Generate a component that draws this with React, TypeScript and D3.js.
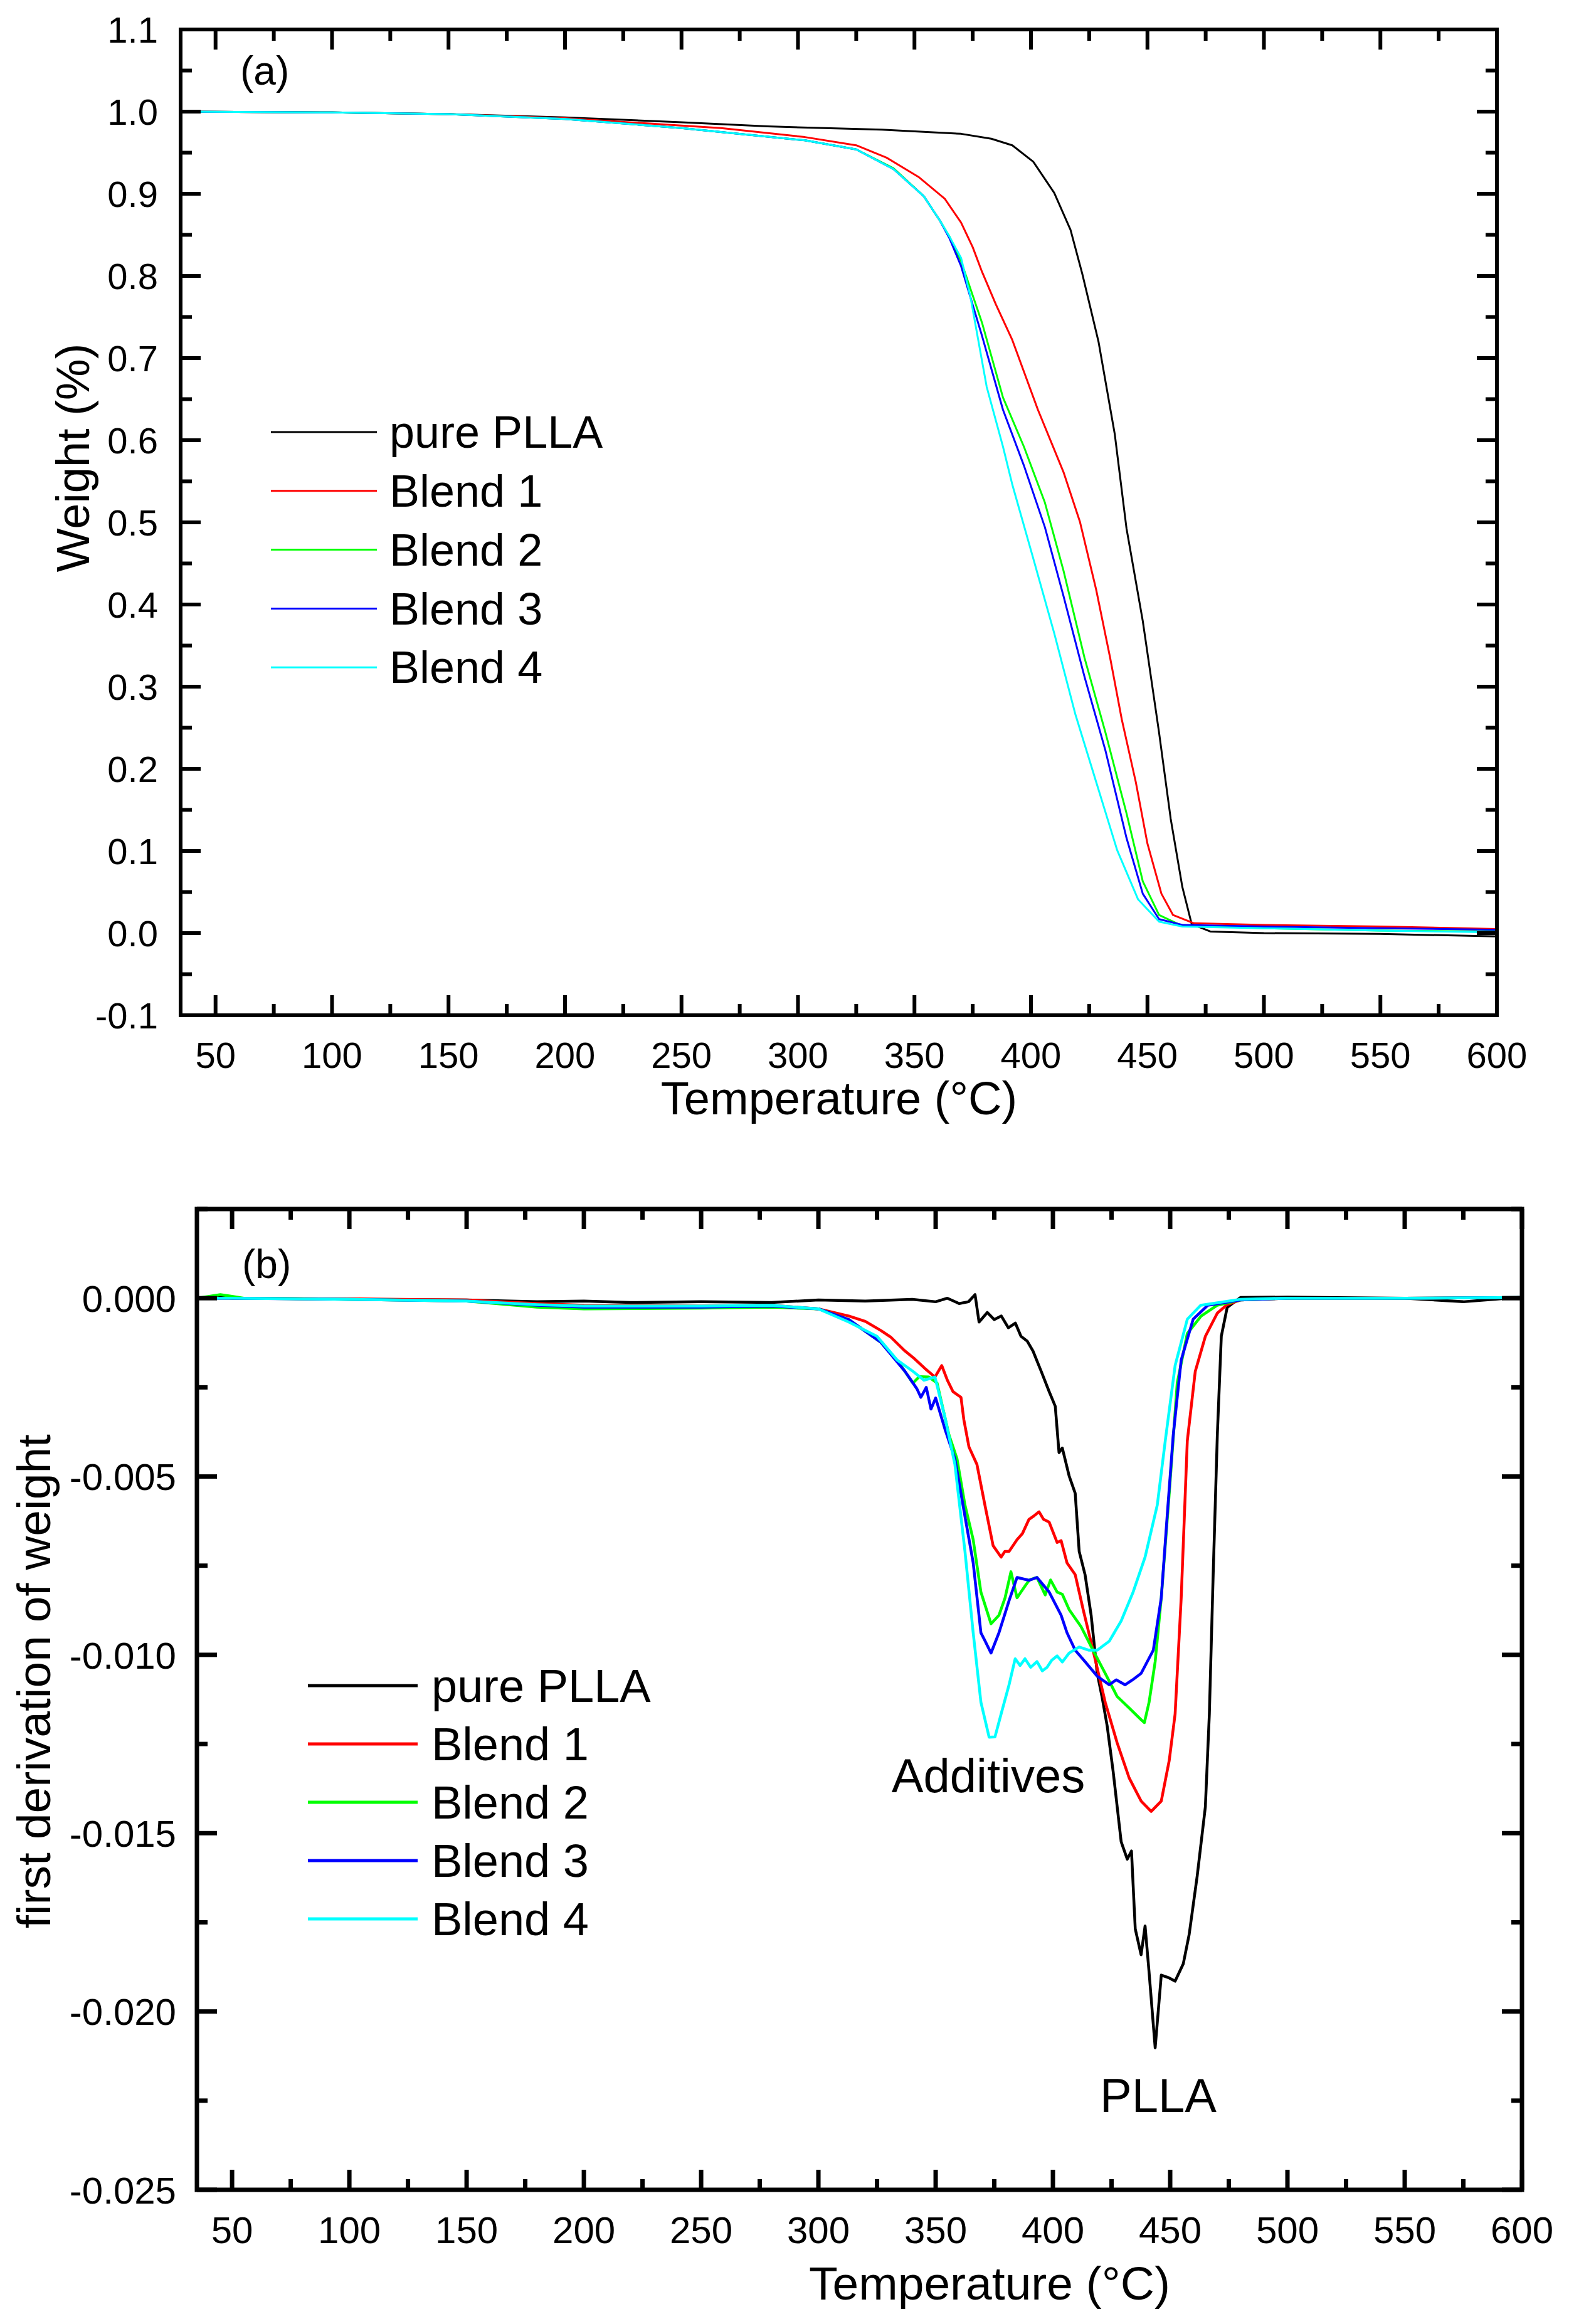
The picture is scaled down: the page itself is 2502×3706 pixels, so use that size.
import React from "react";
import * as d3 from "d3";

// ---------- Panel (a): TGA weight curves ----------
const T_A_PURE = [35, 100, 150, 200, 250, 287, 336, 370, 383, 392, 401, 410, 417, 422, 429, 436, 441, 448, 455, 460, 465, 469, 477, 500, 550, 600];
const W_A_PURE = [1.0, 0.999, 0.997, 0.993, 0.987, 0.982, 0.978, 0.973, 0.967, 0.959, 0.939, 0.901, 0.856, 0.803, 0.72, 0.607, 0.493, 0.38, 0.244, 0.139, 0.056, 0.011, 0.002, 0.0, -0.001, -0.004];

const T_A_B1 = [35, 100, 150, 200, 250, 267, 303, 325, 338, 352, 363, 370, 375, 379, 385, 392, 403, 414, 421, 428, 434, 439, 445, 450, 456, 461, 470, 500, 550, 600];
const W_A_B1 = [1.0, 0.999, 0.997, 0.992, 0.983, 0.98, 0.969, 0.959, 0.944, 0.92, 0.894, 0.865, 0.835, 0.805, 0.765, 0.722, 0.637, 0.561, 0.501, 0.418, 0.335, 0.26, 0.184, 0.109, 0.048, 0.022, 0.012, 0.01, 0.008, 0.005];

const T_A_B2 = [35, 100, 150, 200, 250, 303, 325, 341, 354, 361, 365, 370, 379, 388, 397, 406, 414, 423, 432, 441, 448, 455, 464, 500, 550, 600];
const W_A_B2 = [1.0, 0.999, 0.997, 0.991, 0.98, 0.965, 0.954, 0.931, 0.897, 0.867, 0.848, 0.818, 0.743, 0.652, 0.592, 0.524, 0.441, 0.335, 0.244, 0.146, 0.063, 0.022, 0.01, 0.006, 0.003, 0.002];

const T_A_B3 = [35, 100, 150, 200, 250, 303, 325, 341, 354, 361, 365, 370, 379, 388, 397, 406, 414, 423, 432, 441, 448, 455, 465, 500, 550, 600];
const W_A_B3 = [1.0, 0.999, 0.997, 0.991, 0.98, 0.965, 0.954, 0.93, 0.897, 0.867, 0.846, 0.812, 0.727, 0.637, 0.569, 0.494, 0.41, 0.312, 0.222, 0.116, 0.048, 0.017, 0.01, 0.008, 0.006, 0.004];

const T_A_B4 = [35, 100, 150, 200, 250, 303, 325, 341, 354, 361, 365, 370, 374, 381, 388, 392, 401, 410, 419, 428, 437, 446, 455, 465, 500, 550, 600];
const W_A_B4 = [1.0, 0.999, 0.997, 0.991, 0.98, 0.965, 0.954, 0.93, 0.897, 0.867, 0.848, 0.822, 0.775, 0.665, 0.592, 0.546, 0.456, 0.365, 0.267, 0.184, 0.101, 0.041, 0.014, 0.008, 0.006, 0.003, 0.001];

// ---------- Panel (b): first derivative ----------
const T_B_PURE = [35, 45, 50, 60, 100, 150, 180, 200, 220, 250, 280, 300, 320, 340, 350, 355, 360, 364, 366.8, 368.5, 372, 375, 378, 381, 384, 386.4, 389, 391.5, 395, 398.4, 401, 402.6, 404, 406.9, 409.5, 411.2, 413.7, 416.3, 418.9, 421, 423.1, 425.7, 429.1, 431.7, 433.5, 435.1, 437.6, 439.3, 441, 443.6, 446.2, 449.6, 452.1, 455.6, 458.1, 461.5, 465, 466.7, 468.4, 470.1, 471.8, 474.3, 480, 500, 550, 575, 600];
const V_B_PURE = [0, 0.00003, 0, 0, -0.00003, -0.00005, -0.0001, -0.00008, -0.00012, -0.0001, -0.00012, -0.00005, -0.00008, -0.00003, -0.0001, 0, -0.00015, -0.0001, 0.0001, -0.00067, -0.0004, -0.0006, -0.0005, -0.00083, -0.0007, -0.00107, -0.0012, -0.00148, -0.00205, -0.00262, -0.00303, -0.00433, -0.0042, -0.00498, -0.00547, -0.0071, -0.00775, -0.00889, -0.01052, -0.0112, -0.01198, -0.01328, -0.01524, -0.01573, -0.0155, -0.01768, -0.01841, -0.0176, -0.0189, -0.02102, -0.01898, -0.01906, -0.01915, -0.01866, -0.01784, -0.01621, -0.01426, -0.01166, -0.00759, -0.00384, -0.00107, -0.00026, 0.00002, 0.00003, 0.0, -0.0001, 0.00003];

const T_B_B1 = [35, 50, 100, 150, 180, 200, 250, 280, 300, 313, 320, 326.7, 331, 336.9, 341, 345.4, 349.7, 352.6, 355, 357.4, 360.8, 362, 364.2, 367.6, 371, 374.5, 377.9, 379.5, 381.3, 384.7, 387, 389.8, 392, 394.1, 396, 398.4, 401.8, 403.5, 406, 409.5, 412.9, 417.1, 422.3, 427.4, 432.5, 437.6, 441.9, 446.2, 449.6, 452.1, 454.7, 457.3, 460.7, 465, 470.1, 474.3, 480, 500, 550, 600];
const V_B_B1 = [0, 0, -0.00002, -0.00005, -0.00015, -0.0002, -0.00022, -0.0002, -0.0003, -0.0005, -0.00065, -0.00091, -0.0011, -0.00148, -0.0017, -0.00197, -0.00221, -0.00189, -0.0023, -0.00262, -0.00278, -0.0034, -0.00417, -0.00466, -0.0058, -0.00694, -0.00726, -0.0071, -0.0071, -0.00677, -0.0066, -0.0062, -0.0061, -0.00599, -0.0062, -0.00628, -0.00685, -0.0068, -0.00742, -0.00775, -0.00873, -0.00987, -0.01133, -0.01247, -0.01345, -0.0141, -0.01439, -0.0141, -0.01296, -0.01166, -0.0084, -0.004, -0.00205, -0.00107, -0.00042, -0.00018, -0.00005, 0.0, 0.0, 0.00002];

const T_B_B2 = [35, 45, 50, 55, 100, 150, 180, 200, 250, 280, 300, 313, 326.7, 335.2, 340.3, 343, 347.1, 350.6, 355.7, 359.1, 362.5, 366, 369.3, 373.6, 377, 379.6, 382.1, 384.7, 388.1, 390, 393.2, 396.7, 399, 401.8, 404, 406.9, 412, 417.1, 422.3, 427.4, 432.5, 437.6, 439, 441, 443.6, 446.2, 449.6, 453, 457.3, 463.2, 470, 480, 500, 550, 600];
const V_B_B2 = [0, 0.0001, 0.00005, 0, -0.00003, -0.00008, -0.00025, -0.0003, -0.00028, -0.00025, -0.0003, -0.0006, -0.00124, -0.00189, -0.00238, -0.0022, -0.00221, -0.00238, -0.00384, -0.0045, -0.0058, -0.00677, -0.00824, -0.00913, -0.00889, -0.0084, -0.00767, -0.0084, -0.00807, -0.0079, -0.00783, -0.00832, -0.0079, -0.00824, -0.0083, -0.00873, -0.00921, -0.00987, -0.01052, -0.01117, -0.01149, -0.01182, -0.0119, -0.01133, -0.01019, -0.0084, -0.00547, -0.00238, -0.00099, -0.0005, -0.0002, -0.00005, 0.0, 0.0, 0.00002];

const T_B_B3 = [35, 50, 100, 150, 180, 200, 250, 280, 300, 313, 326.7, 336.9, 342, 343.7, 346, 348, 350, 354, 358.2, 362.5, 366, 369.3, 371, 373.6, 377, 381.3, 384.7, 389.8, 393.2, 398.4, 403.5, 406, 409.5, 413.7, 418.9, 424, 427, 430.8, 434, 437.6, 442.8, 446.2, 448.7, 451.3, 454.7, 459.8, 466, 480, 500, 550, 600];
const V_B_B3 = [0, 0, -0.00003, -0.00008, -0.0002, -0.00025, -0.00025, -0.00022, -0.0003, -0.0006, -0.00124, -0.00205, -0.00254, -0.00278, -0.0025, -0.00311, -0.0028, -0.00368, -0.0045, -0.00612, -0.00742, -0.00938, -0.0096, -0.00995, -0.00938, -0.00848, -0.00783, -0.00791, -0.00783, -0.00824, -0.00889, -0.00938, -0.00987, -0.01019, -0.0106, -0.01084, -0.0107, -0.01084, -0.0107, -0.01052, -0.00987, -0.0084, -0.00612, -0.00384, -0.00173, -0.00059, -0.0002, -0.00005, 0.0, 0.0, 0.00002];

const T_B_B4 = [35, 50, 100, 150, 180, 200, 250, 280, 300, 313, 325, 333.5, 340.3, 345, 349.7, 354, 358.2, 362.5, 366, 369.3, 372.8, 375.3, 377.9, 381.3, 383.9, 386, 388.1, 390.5, 393.2, 395.5, 397.5, 399.5, 401.8, 404, 406.9, 411.2, 415.4, 418.9, 424, 429.1, 434.2, 439.3, 444.5, 447.9, 452.1, 457.3, 463, 480, 500, 550, 600];
const V_B_B4 = [0, 0, -0.00003, -0.00008, -0.00018, -0.00022, -0.00022, -0.0002, -0.0003, -0.00067, -0.00107, -0.00173, -0.00205, -0.0023, -0.00221, -0.00335, -0.00466, -0.0071, -0.00938, -0.01133, -0.01231, -0.0123, -0.01166, -0.01084, -0.01011, -0.0103, -0.01011, -0.01035, -0.01019, -0.01045, -0.01035, -0.01015, -0.01003, -0.0102, -0.00995, -0.00978, -0.00987, -0.00987, -0.00962, -0.00905, -0.00824, -0.00726, -0.0058, -0.004, -0.00189, -0.00059, -0.0002, -0.00003, 0.0, 0.0, 0.00002];

// ---------- Labels / ticks ----------
const SERIES_NAMES = ["pure PLLA", "Blend 1", "Blend 2", "Blend 3", "Blend 4"];
const SERIES_COLORS = ["#000000", "#ff0000", "#00ff00", "#0000ff", "#00ffff"];
const X_MAJOR = [50, 100, 150, 200, 250, 300, 350, 400, 450, 500, 550, 600];
const X_MINOR = [75, 125, 175, 225, 275, 325, 375, 425, 475, 525, 575];
const Y_MAJOR_A = [-0.1, 0.0, 0.1, 0.2, 0.3, 0.4, 0.5, 0.6, 0.7, 0.8, 0.9, 1.0, 1.1];
const Y_MINOR_A = [-0.05, 0.05, 0.15, 0.25, 0.35, 0.45, 0.55, 0.65, 0.75, 0.85, 0.95, 1.05];
const Y_MAJOR_B = [-0.025, -0.02, -0.015, -0.01, -0.005, 0.0];
const Y_MINOR_B = [-0.0225, -0.0175, -0.0125, -0.0075, -0.0025, 0.0025];

const FONT = "'Liberation Sans', Arial, Helvetica, sans-serif";

const zip = (t: number[], v: number[]) => t.map((x, i) => [x, v[i]] as [number, number]);

type PanelProps = {
  id: string;
  left: number; right: number; top: number; bottom: number;
  yDomain: [number, number];
  series: [number, number][][];
  yMajor: number[]; yMinor: number[]; yDigits: number;
  axisW: number; lineW: number; majorLen: number; minorLen: number;
  fontSize: number; xLabelBaseline: number; yLabelRight: number;
  panelLabel: string; panelLabelX: number; panelLabelY: number;
  xTitleX: number; xTitleY: number;
  yTitle: string; yTitleX: number; yTitleY: number;
  titleSize: number;
  legendX1: number; legendX2: number; legendTextX: number; legendY0: number; legendDy: number; legendSize: number; legendLineW: number;
};

function Panel(p: PanelProps) {
  const x = d3.scaleLinear().domain([35, 600]).range([p.left, p.right]);
  const y = d3.scaleLinear().domain(p.yDomain).range([p.bottom, p.top]);
  const line = d3.line<[number, number]>().x((d) => x(d[0])).y((d) => y(d[1]));
  const fmt = (v: number) => {
    const s = v.toFixed(p.yDigits);
    return s.startsWith("-") && Number(s) === 0 ? s.slice(1) : s;
  };
  return (
    <g>
      <defs>
        <clipPath id={`clip-${p.id}`}>
          <rect x={p.left} y={p.top} width={p.right - p.left} height={p.bottom - p.top} />
        </clipPath>
      </defs>
      <g clipPath={`url(#clip-${p.id})`}>
        {p.series.map((s, i) => (
          <path key={i} d={line(s) || ""} fill="none" stroke={SERIES_COLORS[i]} strokeWidth={p.lineW} strokeLinejoin="round" />
        ))}
      </g>
      <g stroke="#000" strokeWidth={p.axisW}>
        {X_MAJOR.map((t) => (
          <g key={"xM" + t}>
            <line x1={x(t)} x2={x(t)} y1={p.bottom} y2={p.bottom - p.majorLen} />
            <line x1={x(t)} x2={x(t)} y1={p.top} y2={p.top + p.majorLen} />
          </g>
        ))}
        {X_MINOR.map((t) => (
          <g key={"xm" + t}>
            <line x1={x(t)} x2={x(t)} y1={p.bottom} y2={p.bottom - p.minorLen} />
            <line x1={x(t)} x2={x(t)} y1={p.top} y2={p.top + p.minorLen} />
          </g>
        ))}
        {p.yMajor.map((t) => (
          <g key={"yM" + t}>
            <line x1={p.left} x2={p.left + p.majorLen} y1={y(t)} y2={y(t)} />
            <line x1={p.right} x2={p.right - p.majorLen} y1={y(t)} y2={y(t)} />
          </g>
        ))}
        {p.yMinor.map((t) => (
          <g key={"ym" + t}>
            <line x1={p.left} x2={p.left + p.minorLen} y1={y(t)} y2={y(t)} />
            <line x1={p.right} x2={p.right - p.minorLen} y1={y(t)} y2={y(t)} />
          </g>
        ))}
      </g>
      <rect x={p.left} y={p.top} width={p.right - p.left} height={p.bottom - p.top} fill="none" stroke="#000" strokeWidth={p.axisW} />
      <g fontFamily={FONT} fontSize={p.fontSize} fill="#000">
        {X_MAJOR.map((t) => (
          <text key={"xl" + t} x={x(t)} y={p.xLabelBaseline} textAnchor="middle">{t}</text>
        ))}
        {p.yMajor.map((t) => (
          <text key={"yl" + t} x={p.yLabelRight} y={y(t) + p.fontSize * 0.36} textAnchor="end">{fmt(t)}</text>
        ))}
      </g>
      <text x={p.panelLabelX} y={p.panelLabelY} fontFamily={FONT} fontSize={64}>{p.panelLabel}</text>
      <text x={p.xTitleX} y={p.xTitleY} fontFamily={FONT} fontSize={p.titleSize} textAnchor="middle">Temperature (°C)</text>
      <text x={p.yTitleX} y={p.yTitleY} fontFamily={FONT} fontSize={p.titleSize} textAnchor="middle" transform={`rotate(-90 ${p.yTitleX} ${p.yTitleY})`}>{p.yTitle}</text>
      <g fontFamily={FONT} fontSize={p.legendSize}>
        {SERIES_NAMES.map((n, i) => {
          const ly = p.legendY0 + i * p.legendDy;
          return (
            <g key={n}>
              <line x1={p.legendX1} x2={p.legendX2} y1={ly} y2={ly} stroke={SERIES_COLORS[i]} strokeWidth={p.legendLineW} />
              <text x={p.legendTextX} y={ly + p.legendSize * 0.35}>{n}</text>
            </g>
          );
        })}
      </g>
    </g>
  );
}

export default function App() {
  const seriesA = [zip(T_A_PURE, W_A_PURE), zip(T_A_B1, W_A_B1), zip(T_A_B2, W_A_B2), zip(T_A_B3, W_A_B3), zip(T_A_B4, W_A_B4)];
  const seriesB = [zip(T_B_PURE, V_B_PURE), zip(T_B_B1, V_B_B1), zip(T_B_B2, V_B_B2), zip(T_B_B3, V_B_B3), zip(T_B_B4, V_B_B4)];
  return (
    <svg width={2502} height={3706} style={{ position: "absolute", left: 0, top: 0, background: "#fff" }} xmlns="http://www.w3.org/2000/svg">
      <rect x={0} y={0} width={2502} height={3706} fill="#fff" />
      <Panel
        id="a" left={288} right={2387} top={47} bottom={1619}
        yDomain={[-0.1, 1.1]} series={seriesA}
        yMajor={Y_MAJOR_A} yMinor={Y_MINOR_A} yDigits={1}
        axisW={6} lineW={3} majorLen={32} minorLen={18}
        fontSize={58} xLabelBaseline={1703} yLabelRight={252}
        panelLabel="(a)" panelLabelX={383} panelLabelY={135}
        xTitleX={1338} xTitleY={1777}
        yTitle="Weight (%)" yTitleX={142} yTitleY={730}
        titleSize={74}
        legendX1={432} legendX2={601} legendTextX={621} legendY0={689} legendDy={93.8} legendSize={72} legendLineW={3}
      />
      <Panel
        id="b" left={314} right={2427} top={1928} bottom={3492}
        yDomain={[-0.025, 0.0025]} series={seriesB}
        yMajor={Y_MAJOR_B} yMinor={Y_MINOR_B} yDigits={3}
        axisW={7} lineW={4.5} majorLen={32} minorLen={17}
        fontSize={60} xLabelBaseline={3577} yLabelRight={281}
        panelLabel="(b)" panelLabelX={386} panelLabelY={2038}
        xTitleX={1578} xTitleY={3667}
        yTitle="first derivation of weight" yTitleX={80} yTitleY={2681}
        titleSize={75}
        legendX1={491} legendX2={666} legendTextX={688} legendY0={2688} legendDy={93} legendSize={74} legendLineW={5}
      />
      <text x={1576} y={2858} fontFamily={FONT} fontSize={76} textAnchor="middle">Additives</text>
      <text x={1847} y={3368} fontFamily={FONT} fontSize={76} textAnchor="middle">PLLA</text>
    </svg>
  );
}
